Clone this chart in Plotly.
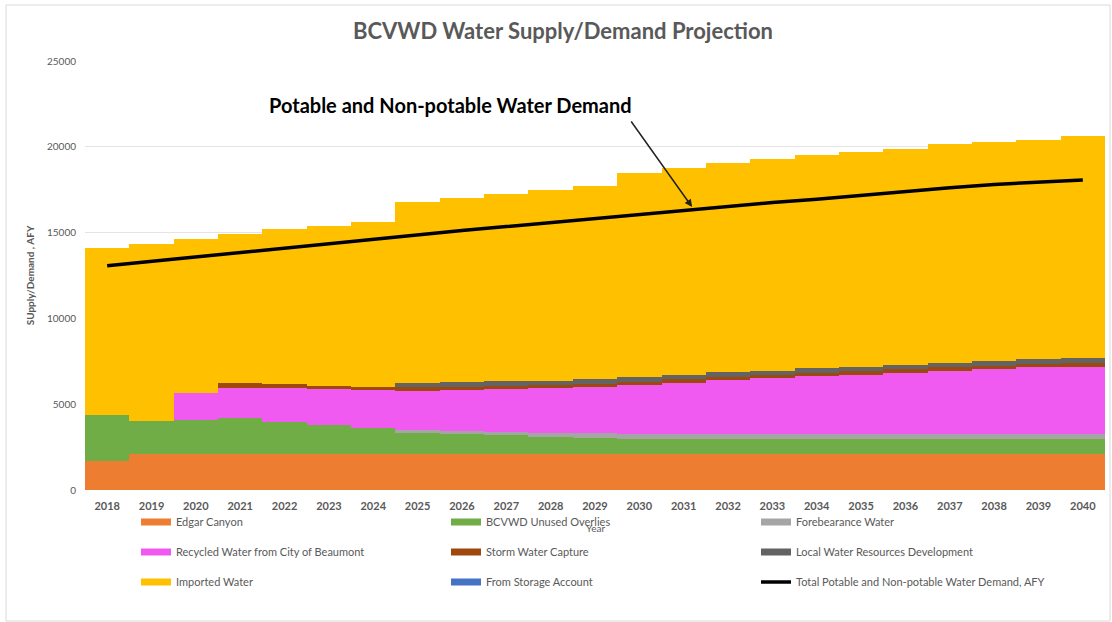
import plotly.graph_objects as go

years = [str(y) for y in range(2018, 2041)]

edgar_canyon = [1700] + [2100] * 22
bcvwd_unused_overlies = [2700, 1950, 1980, 2080, 1880, 1690, 1490, 1260, 1160, 1090, 1000, 950, 900,
                         860, 860, 860, 860, 860, 860, 860, 860, 860, 860]
forebearance = [0, 0, 0, 0, 0, 0, 0, 110, 170, 200, 230, 250, 270,
                280, 280, 280, 280, 280, 280, 280, 280, 280, 280]
recycled = [0, 0, 1590, 1780, 1950, 2070, 2240, 2320, 2400, 2490, 2600, 2685, 2850,
            3010, 3170, 3270, 3400, 3490, 3600, 3710, 3800, 3900, 3950]
storm_water = [0, 0, 0, 250, 220, 210, 190, 200, 200, 200, 200, 200, 200,
               200, 200, 200, 200, 200, 200, 200, 200, 200, 200]
local_dev = [0, 0, 0, 0, 0, 0, 0, 220, 240, 250, 250, 260, 250,
             250, 240, 240, 250, 260, 260, 260, 270, 280, 280]
total_supply = [14100, 14350, 14600, 14920, 15200, 15400, 15600, 16800, 17000, 17250, 17480, 17720, 18500,
                18750, 19040, 19270, 19520, 19680, 19870, 20150, 20300, 20420, 20630]
storage = [0] * 23
demand = [13070, 13330, 13580, 13830, 14080, 14370, 14650, 14880, 15120, 15350, 15590, 15820, 16060,
          16300, 16530, 16750, 16950, 17180, 17420, 17620, 17810, 17950, 18070]

imported = [t - (a + b + c + d + e + f) for t, a, b, c, d, e, f in
            zip(total_supply, edgar_canyon, bcvwd_unused_overlies, forebearance, recycled, storm_water, local_dev)]

series = [
    ("Edgar Canyon", edgar_canyon, "#ED7D31"),
    ("BCVWD Unused Overlies", bcvwd_unused_overlies, "#70AD47"),
    ("Forebearance Water", forebearance, "#A5A5A5"),
    ("Recycled Water from City of Beaumont", recycled, "#F05AF0"),
    ("Storm Water Capture", storm_water, "#9E480E"),
    ("Local Water Resources Development", local_dev, "#636363"),
    ("Imported Water", imported, "#FFC000"),
    ("From Storage Account", storage, "#4472C4"),
]

FONT = "Lato"
GRAY = "#595959"

fig = go.Figure()
for name, vals, col in series:
    fig.add_trace(go.Bar(x=years, y=vals, name=name, marker=dict(color=col, line=dict(width=0)),
                         showlegend=False))

fig.add_trace(go.Scatter(x=years, y=demand, mode="lines", line=dict(color="black", width=3.5),
                         name="Total Potable and Non-potable Water Demand, AFY", showlegend=False))

# legend proxies (wide swatches like the original)
legend_items = [(n, c) for n, _, c in series] + [("Total Potable and Non-potable Water Demand, AFY", "black")]
for i, (name, col) in enumerate(legend_items):
    lg = ["legend", "legend2", "legend3"][i // 3]
    w = 3.5 if name.startswith("Total") else 7
    fig.add_trace(go.Scatter(x=[None], y=[None], mode="lines", name=name,
                             line=dict(color=col, width=w), legend=lg, showlegend=True))

leg_common = dict(orientation="h", xref="container", yref="container", xanchor="left", yanchor="middle",
                  entrywidth=265, entrywidthmode="pixels", traceorder="normal",
                  font=dict(family=FONT, size=11, color=GRAY), bgcolor="rgba(0,0,0,0)",
                  itemwidth=30)

fig.update_layout(
    width=1112, height=622,
    paper_bgcolor="white", plot_bgcolor="white",
    barmode="stack", bargap=0,
    margin=dict(l=85, r=7, t=61, b=132, autoexpand=False),
    font=dict(family=FONT, color=GRAY),
    title=dict(text="<b>BCVWD Water Supply/Demand Projection</b>", x=563 / 1112, xanchor="center",
               y=1 - 31 / 622, yanchor="middle", font=dict(family=FONT, size=22, color=GRAY)),
    xaxis=dict(type="category", range=[-0.5, 22.5], showgrid=False, showline=False, ticks="",
               automargin=True, ticklabelstandoff=8,
               tickfont=dict(family=FONT, size=11, color=GRAY, weight="bold")),
    yaxis=dict(range=[0, 25000], dtick=5000, tickformat="d", showgrid=True, gridcolor="#E4E4E4",
               gridwidth=1, zeroline=False, showline=False, ticks="", automargin=True,
               ticklabelstandoff=8,
               tickfont=dict(family=FONT, size=10, color=GRAY),
               title=dict(text="<b>SUpply/Demand , AFY</b>", font=dict(family=FONT, size=10, color=GRAY),
                          standoff=10)),
    legend=dict(x=136 / 1112, y=1 - 522 / 622, **leg_common),
    legend2=dict(x=136 / 1112, y=1 - 552 / 622, **leg_common),
    legend3=dict(x=136 / 1112, y=1 - 582 / 622, **leg_common),
    shapes=[dict(type="rect", xref="paper", yref="paper",
                 x0=-79 / 1020, x1=1 + 5 / 1020, y0=-131 / 429, y1=1 + 56 / 429,
                 line=dict(color="#D9D9D9", width=1), fillcolor="rgba(0,0,0,0)", layer="below")],
    annotations=[
        dict(text="Year", xref="paper", yref="paper", x=0.5, y=(490 - 528) / 429,
             xanchor="center", yanchor="middle", showarrow=False,
             font=dict(family=FONT, size=10, color=GRAY)),
        dict(text="<b>Potable and Non-potable Water Demand</b>", xref="paper", yref="paper",
             x=(450 - 85) / 1020, y=(490 - 105) / 429, xanchor="center", yanchor="middle",
             showarrow=False, font=dict(family=FONT, size=20, color="black")),
        dict(text="", x=13.19, y=16490, xref="x", yref="y", showarrow=True, arrowhead=2,
             arrowsize=1, arrowwidth=1.5, arrowcolor="#222222", ax=-62, ay=-87),
    ],
)

fig.write_html("out.html", config={"displayModeBar": False},
               post_script="document.body.style.margin='0';")
